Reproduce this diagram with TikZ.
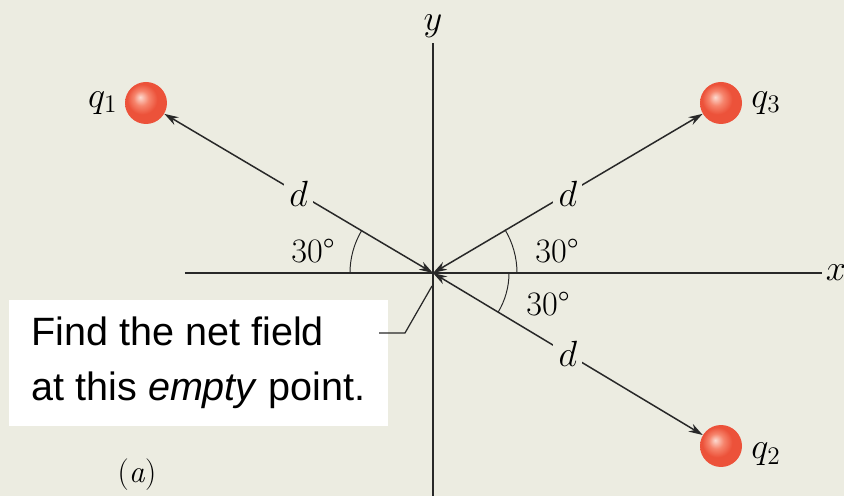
\documentclass[tikz,border=0pt]{standalone}
\usepackage{fontspec}
\newfontfamily\notefont{Liberation Sans}
\usetikzlibrary{arrows.meta, positioning, calc}
\definecolor{figbg}{RGB}{236,236,225}
\definecolor{chargered}{RGB}{236,82,58}
\definecolor{chargemid}{RGB}{246,132,108}
\definecolor{chargehi}{RGB}{252,218,208}
\definecolor{inkgray}{RGB}{40,40,40}
\pgfdeclareradialshading{chargeball}{\pgfpoint{-7bp}{7bp}}{color(0bp)=(chargehi); color(9bp)=(chargemid); color(18bp)=(chargered); color(50bp)=(chargered)}

\begin{document}
\begin{tikzpicture}[
  x=0.02cm, y=0.02cm,
  axis/.style={line width=1.1pt, draw=inkgray},
  dimline/.style={{Stealth[length=8pt,width=5pt]}-{Stealth[length=8pt,width=5pt]},
                  line width=0.85pt, draw=inkgray},
  anglearc/.style={line width=0.55pt, draw=inkgray},
  leader/.style={line width=0.7pt, draw=inkgray},
  charge/.style={circle, minimum size=0.84cm, inner sep=0pt, shading=chargeball},
  lbl/.style={font=\fontsize{19.5}{22}\selectfont, text=black, inner sep=1pt},
  dlbl/.style={lbl, fill=figbg, inner sep=3pt},
  notebox/.style={fill=white, minimum width=7.58cm, minimum height=2.52cm, align=left,
                  text=black, font=\notefont\fontsize{22.5}{31.3}\selectfont}
]
  %% Background and frame
  \fill[figbg] (-433,-223) rectangle (411,273);
  \useasboundingbox (-433,-223) rectangle (411,273);

  %% Axes
  \coordinate (O)  at (0,0);
  \coordinate (xl) at (-248,0);
  \coordinate (xr) at (389,0);
  \coordinate (yb) at (0,-223);
  \coordinate (yt) at (0,230);
  \draw[axis] (xl) -- (xr);
  \draw[axis] (yb) -- (yt);
  \node[lbl, right=1pt of xr] (xlab) {$x$};
  \node[lbl, above=2pt of yt] (ylab) {$y$};

  %% Charges
  \node[charge] (q1) at (-287,170) {};
  \node[charge] (q3) at (288,170)  {};
  \node[charge] (q2) at (288,-173) {};
  \node[lbl, left=3pt of q1]  (q1lab) {$q_1$};
  \node[lbl, right=4pt of q3] (q3lab) {$q_3$};
  \node[lbl, right=4pt of q2, yshift=-0.17cm] (q2lab) {$q_2$};

  %% Distances d from the empty point
  \draw[dimline] (O) -- node[dlbl] (d1) {$d$} (q1);
  \draw[dimline] (O) -- node[dlbl] (d3) {$d$} (q3);
  \draw[dimline] (O) -- node[dlbl] (d2) {$d$} (q2);

  %% Angles
  \draw[anglearc] (O) ++(180:83) arc[start angle=180, end angle=149, radius=83];
  \draw[anglearc] (O) ++(0:84)   arc[start angle=0, end angle=31, radius=84];
  \draw[anglearc] (O) ++(0:76)   arc[start angle=0, end angle=-31, radius=76];
  \node[lbl] (ang1) at (-120,22) {30\textdegree};
  \node[lbl] (ang3) at (124,22)  {30\textdegree};
  \node[lbl] (ang2) at (115,-31) {30\textdegree};

  %% Note box with its leader
  \node[notebox] (note) at (-234.5,-90) {Find the net field\\at this \textit{empty} point.};
  \coordinate (tail) at (-54,-60);
  \coordinate (knee) at (-28,-60);
  \coordinate (spot) at (-1,-13);
  \draw[leader] (tail) -- (knee) -- (spot);

  %% Caption
  \node[lbl, font=\fontsize{18}{21}\selectfont] (cap) at (-296,-202) {(\textit{a})};
\end{tikzpicture}
\end{document}
